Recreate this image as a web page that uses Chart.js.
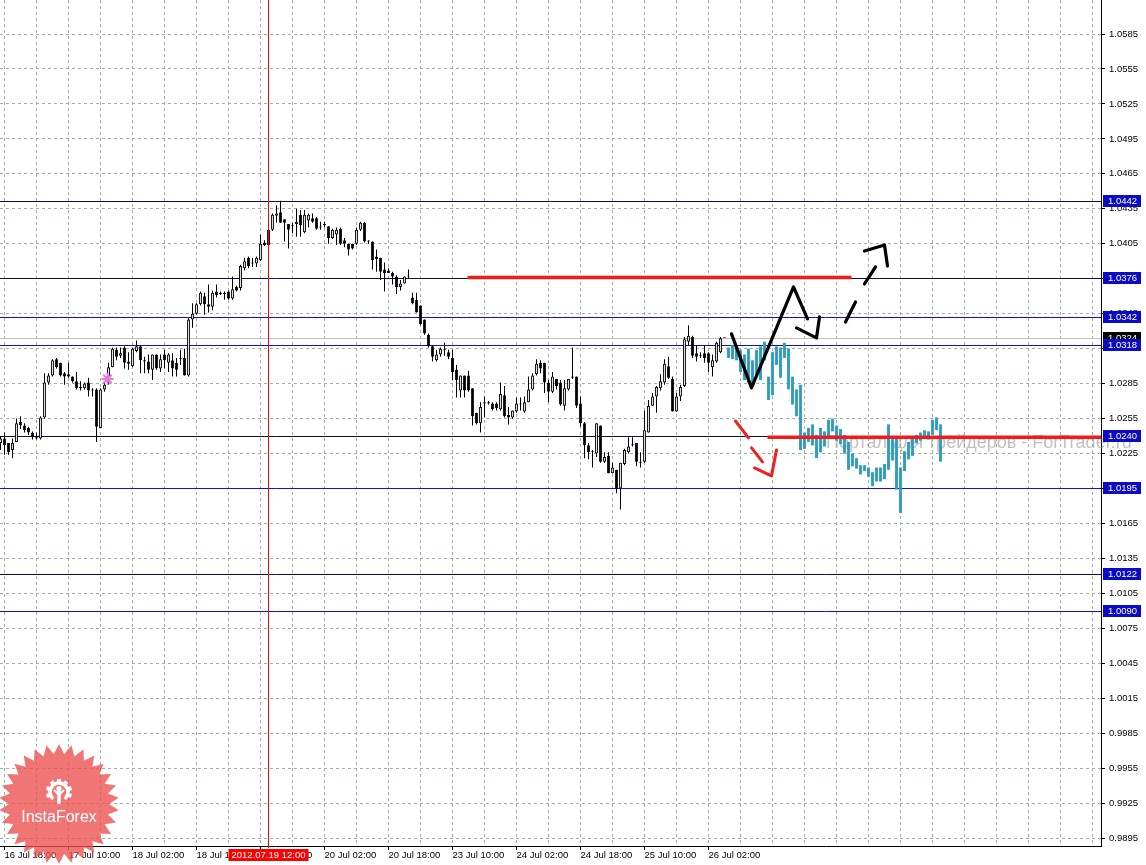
<!DOCTYPE html>
<html>
<head>
<meta charset="utf-8">
<script src="https://cdn.jsdelivr.net/npm/chart.js@4.4.1/dist/chart.umd.min.js"></script>
<style>
  html, body { margin: 0; padding: 0; background: #fff; overflow: hidden; }
  canvas { display: block; }
</style>
</head>
<body>
<canvas id="chart" width="1146" height="865"></canvas>
<script>
// EURCHF-like H1 chart, bar index 0 = 16 Jul 18:00
const firstBar = -1
// [open, high, low, close]
const candles = [
  [1.0234,1.0240,1.0228,1.0238],[1.0238,1.0243,1.0224,1.0232],[1.0234,1.0234,1.0224,1.0226],[1.0228,1.0238,1.0221,1.0234],
  [1.0235,1.0255,1.0235,1.0251],[1.0252,1.0257,1.0246,1.0249],[1.0249,1.0251,1.0243,1.0245],[1.0247,1.0248,1.0241,1.0243],
  [1.0243,1.0244,1.0237,1.0239],[1.0239,1.0243,1.0237,1.0238],[1.0238,1.0257,1.0237,1.0256],[1.0256,1.0294,1.0255,1.0286],
  [1.0286,1.0294,1.0284,1.0292],[1.0292,1.0306,1.0291,1.0305],[1.0306,1.0307,1.0298,1.0299],[1.0303,1.0303,1.0291,1.0292],
  [1.0294,1.0295,1.0284,1.0291],[1.0293,1.0303,1.0290,1.0291],[1.0291,1.0291,1.0286,1.0287],[1.0287,1.0295,1.0280,1.0281],
  [1.0282,1.0287,1.0279,1.0281],[1.0281,1.0286,1.0280,1.0285],[1.0286,1.0290,1.0274,1.0279],[1.0280,1.0281,1.0274,1.0279],
  [1.0280,1.0281,1.0235,1.0248],[1.0247,1.0281,1.0247,1.0280],[1.0280,1.0286,1.0278,1.0284],[1.0286,1.0303,1.0284,1.0299],
  [1.0299,1.0316,1.0299,1.0315],[1.0314,1.0316,1.0305,1.0308],[1.0309,1.0316,1.0307,1.0311],[1.0316,1.0317,1.0298,1.0303],
  [1.0304,1.0312,1.0297,1.0302],[1.0300,1.0316,1.0299,1.0315],[1.0313,1.0322,1.0312,1.0317],[1.0317,1.0317,1.0294,1.0305],
  [1.0305,1.0308,1.0294,1.0304],[1.0304,1.0310,1.0294,1.0297],[1.0297,1.0310,1.0288,1.0310],[1.0310,1.0310,1.0297,1.0298],
  [1.0298,1.0310,1.0295,1.0306],[1.0310,1.0314,1.0298,1.0305],[1.0303,1.0311,1.0295,1.0310],[1.0305,1.0311,1.0291,1.0298],
  [1.0303,1.0307,1.0291,1.0297],[1.0306,1.0314,1.0301,1.0306],[1.0307,1.0315,1.0292,1.0292],[1.0292,1.0341,1.0291,1.0340],
  [1.0340,1.0354,1.0333,1.0345],[1.0345,1.0354,1.0344,1.0353],[1.0353,1.0364,1.0352,1.0363],[1.0360,1.0363,1.0344,1.0353],
  [1.0353,1.0370,1.0346,1.0351],[1.0351,1.0365,1.0348,1.0363],[1.0364,1.0370,1.0359,1.0361],[1.0362,1.0364,1.0361,1.0363],
  [1.0362,1.0364,1.0357,1.0362],[1.0364,1.0365,1.0357,1.0358],[1.0358,1.0377,1.0357,1.0366],[1.0368,1.0369,1.0364,1.0365],
  [1.0367,1.0387,1.0365,1.0386],[1.0384,1.0393,1.0382,1.0390],[1.0393,1.0394,1.0384,1.0386],[1.0388,1.0393,1.0385,1.0389],
  [1.0388,1.0394,1.0385,1.0393],[1.0391,1.0413,1.0390,1.0405],[1.0406,1.0408,1.0403,1.0404],[1.0404,1.0418,1.0403,1.0417],
  [1.0417,1.0431,1.0416,1.0430],[1.0429,1.0438,1.0423,1.0431],[1.0432,1.0442,1.0423,1.0423],[1.0426,1.0426,1.0407,1.0423],
  [1.0422,1.0422,1.0401,1.0417],[1.0420,1.0423,1.0414,1.0420],[1.0422,1.0435,1.0411,1.0424],[1.0430,1.0434,1.0411,1.0421],
  [1.0415,1.0434,1.0414,1.0430],[1.0425,1.0431,1.0419,1.0430],[1.0427,1.0431,1.0423,1.0424],[1.0427,1.0428,1.0417,1.0418],
  [1.0419,1.0424,1.0417,1.0419],[1.0421,1.0424,1.0419,1.0422],[1.0420,1.0420,1.0405,1.0410],[1.0410,1.0418,1.0409,1.0417],
  [1.0413,1.0419,1.0404,1.0417],[1.0418,1.0419,1.0404,1.0405],[1.0408,1.0410,1.0402,1.0405],[1.0405,1.0405,1.0395,1.0400],
  [1.0405,1.0405,1.0400,1.0401],[1.0405,1.0419,1.0404,1.0417],[1.0417,1.0424,1.0416,1.0423],[1.0423,1.0424,1.0406,1.0407],
  [1.0407,1.0408,1.0405,1.0407],[1.0407,1.0407,1.0383,1.0391],[1.0394,1.0400,1.0381,1.0392],[1.0393,1.0393,1.0374,1.0381],
  [1.0383,1.0389,1.0364,1.0380],[1.0382,1.0384,1.0380,1.0380],[1.0380,1.0381,1.0370,1.0377],[1.0377,1.0378,1.0362,1.0368],
  [1.0368,1.0374,1.0365,1.0371],[1.0371,1.0377,1.0371,1.0377],[1.0377,1.0383,1.0375,1.0377],[1.0359,1.0363,1.0353,1.0354],
  [1.0357,1.0363,1.0346,1.0346],[1.0352,1.0352,1.0335,1.0336],[1.0340,1.0340,1.0327,1.0328],[1.0327,1.0328,1.0316,1.0317],
  [1.0317,1.0318,1.0304,1.0308],[1.0305,1.0314,1.0304,1.0310],[1.0310,1.0316,1.0308,1.0315],[1.0314,1.0320,1.0309,1.0314],
  [1.0312,1.0314,1.0306,1.0308],[1.0307,1.0314,1.0288,1.0295],[1.0297,1.0301,1.0273,1.0288],[1.0279,1.0292,1.0273,1.0292],
  [1.0292,1.0292,1.0273,1.0279],[1.0292,1.0296,1.0278,1.0279],[1.0281,1.0281,1.0249,1.0257],[1.0260,1.0260,1.0250,1.0251],
  [1.0251,1.0269,1.0243,1.0265],[1.0269,1.0274,1.0256,1.0268],[1.0268,1.0270,1.0267,1.0269],[1.0268,1.0269,1.0262,1.0263],
  [1.0268,1.0269,1.0262,1.0264],[1.0263,1.0286,1.0262,1.0276],[1.0275,1.0283,1.0256,1.0257],[1.0258,1.0265,1.0250,1.0256],
  [1.0256,1.0262,1.0255,1.0262],[1.0261,1.0273,1.0260,1.0268],[1.0268,1.0273,1.0262,1.0267],[1.0261,1.0274,1.0260,1.0269],
  [1.0269,1.0291,1.0269,1.0280],[1.0280,1.0294,1.0279,1.0292],[1.0293,1.0306,1.0292,1.0302],[1.0303,1.0305,1.0294,1.0298],
  [1.0303,1.0303,1.0277,1.0286],[1.0286,1.0288,1.0269,1.0278],[1.0278,1.0295,1.0277,1.0291],[1.0289,1.0289,1.0280,1.0283],
  [1.0286,1.0288,1.0266,1.0267],[1.0266,1.0288,1.0262,1.0281],[1.0280,1.0289,1.0279,1.0289],[1.0290,1.0316,1.0289,1.0291],
  [1.0291,1.0291,1.0264,1.0266],[1.0268,1.0274,1.0248,1.0251],[1.0251,1.0252,1.0221,1.0232],[1.0232,1.0234,1.0220,1.0226],
  [1.0226,1.0228,1.0213,1.0226],[1.0225,1.0251,1.0222,1.0251],[1.0249,1.0249,1.0217,1.0218],[1.0218,1.0226,1.0217,1.0222],
  [1.0223,1.0226,1.0208,1.0208],[1.0208,1.0217,1.0208,1.0213],[1.0211,1.0211,1.0191,1.0195],[1.0195,1.0217,1.0177,1.0217],
  [1.0216,1.0229,1.0215,1.0228],[1.0226,1.0239,1.0225,1.0231],[1.0232,1.0239,1.0231,1.0232],[1.0234,1.0234,1.0214,1.0218],
  [1.0218,1.0226,1.0213,1.0217],[1.0218,1.0262,1.0217,1.0245],[1.0243,1.0271,1.0243,1.0266],[1.0266,1.0277,1.0266,1.0274],
  [1.0274,1.0283,1.0260,1.0282],[1.0281,1.0293,1.0279,1.0287],[1.0286,1.0306,1.0284,1.0302],[1.0300,1.0308,1.0289,1.0290],
  [1.0289,1.0291,1.0261,1.0261],[1.0261,1.0277,1.0261,1.0274],[1.0274,1.0284,1.0270,1.0282],[1.0283,1.0325,1.0282,1.0323],
  [1.0321,1.0335,1.0318,1.0326],[1.0325,1.0326,1.0307,1.0309],[1.0311,1.0318,1.0304,1.0308],[1.0309,1.0312,1.0307,1.0309],
  [1.0311,1.0318,1.0303,1.0307],[1.0311,1.0312,1.0295,1.0303],[1.0299,1.0310,1.0291,1.0305],[1.0304,1.0321,1.0303,1.0320],
  [1.0312,1.0325,1.0311,1.0324],[1.0324,1.0324,1.0324,1.0324]
]

// overlaid projection bars [low, high], starting at bar 181
const projStart = 181
const projection = [
  [1.0307,1.0316],[1.0306,1.0318],[1.0305,1.0316],[1.0295,1.0314],[1.0288,1.0310],[1.0286,1.0315],[1.0284,1.0305],[1.0292,1.0314],
  [1.0288,1.0317],[1.0305,1.0321],[1.0271,1.0291],[1.0275,1.0312],[1.0301,1.0317],[1.0290,1.0316],[1.0307,1.0320],[1.0280,1.0315],
  [1.0267,1.0291],[1.0257,1.0280],[1.0228,1.0284],[1.0229,1.0243],[1.0235,1.0247],[1.0232,1.0250],[1.0221,1.0241],[1.0226,1.0247],
  [1.0231,1.0244],[1.0239,1.0254],[1.0244,1.0255],[1.0236,1.0249],[1.0233,1.0246],[1.0225,1.0241],[1.0211,1.0235],[1.0214,1.0225],
  [1.0212,1.0221],[1.0207,1.0215],[1.0210,1.0215],[1.0205,1.0213],[1.0197,1.0209],[1.0201,1.0213],[1.0201,1.0213],[1.0203,1.0216],
  [1.0211,1.0250],[1.0219,1.0238],[1.0194,1.0240],[1.0174,1.0213],[1.0210,1.0227],[1.0220,1.0235],[1.0223,1.0240],[1.0234,1.0241],
  [1.0236,1.0243],[1.0238,1.0245],[1.0237,1.0244],[1.0241,1.0254],[1.0245,1.0256],[1.0218,1.0250]
]

const timeLabels = ['16 Jul 18:00', '17 Jul 10:00', '18 Jul 02:00', '18 Jul 18:00', '19 Jul 10:00', '20 Jul 02:00',
  '20 Jul 18:00', '23 Jul 10:00', '24 Jul 02:00', '24 Jul 18:00', '25 Jul 10:00', '26 Jul 02:00']
const barsPerLabel = 16
const barsPerGrid = 8
const yTicks = [0.9895, 0.9925, 0.9955, 0.9985, 1.0015, 1.0045, 1.0075, 1.0105, 1.0135, 1.0165, 1.0195, 1.0225,
  1.0255, 1.0285, 1.0315, 1.0345, 1.0375, 1.0405, 1.0435, 1.0465, 1.0495, 1.0525, 1.0555, 1.0585]

const levels = [1.0442, 1.0376, 1.0342, 1.0318, 1.0240, 1.0195, 1.0122, 1.0090]
const darkLevels = [1.0442, 1.0376, 1.0240, 1.0122]
const bidPrice = 1.0324
const cursorBar = 66
const cursorLabel = '2012.07.19 12:00'

// thick red zones: [fromBar, toBar, price]
const redZones = [[115.75, 211.75, 1.0376], [190.75, 274.2, 1.0239]]
// hand drawn strokes: [bar, price]
const blackStrokes = [
  [[181.75, 1.03277], [186.75, 1.02813], [197.25, 1.03680], [200.75, 1.03405]],
  [[198, 1.03328], [203, 1.03242], [203.75, 1.03422]],
  [[210.25, 1.03379], [212.75, 1.03551]],
  [[215, 1.03705], [217.75, 1.03851]],
  [[215, 1.03988], [220, 1.04040], [220.75, 1.03859]]
]
const redStrokes = [
  [[182.75, 1.02529], [186, 1.02384]],
  [[186.75, 1.02298], [189.5, 1.02178]],
  [[187.5, 1.02126], [191.75, 1.02058], [193, 1.02281]]
]
const starMark = [25.75, 1.0289]
const watermark = 'Портал для трейдеров - ForTrader.ru'

const FONT = 'Liberation Sans'
const gridColor = 'rgb(160,176,166)'

const toPts = s => s.map(p => ({x: p[0], y: p[1]}))

const datasets = []
blackStrokes.forEach(s => datasets.push({type: 'line', data: toPts(s), borderColor: '#000', borderWidth: 3.2,
  borderCapStyle: 'round', borderJoinStyle: 'round', pointRadius: 0, order: 0}))
redStrokes.forEach(s => datasets.push({type: 'line', data: toPts(s), borderColor: '#ee2020', borderWidth: 3,
  borderCapStyle: 'round', borderJoinStyle: 'round', pointRadius: 0, order: 0}))
redZones.forEach(z => datasets.push({type: 'line', data: [{x: z[0], y: z[2]}, {x: z[1], y: z[2]}],
  borderColor: '#f01c1c', borderWidth: 3.5, pointRadius: 0, order: 1}))
datasets.push({type: 'line', data: [{x: starMark[0], y: starMark[1]}], showLine: false, pointStyle: 'star',
  pointRadius: 6, borderWidth: 2, borderColor: 'rgb(228,122,218)', order: 1})
datasets.push({
  type: 'bar', order: 2, grouped: false, maxBarThickness: 3, inflateAmount: 0, borderSkipped: false,
  minBarLength: 1, borderWidth: 1, borderColor: '#000',
  backgroundColor: ctx => { const c = candles[ctx.dataIndex]; return c && c[3] > c[0] ? '#fff' : '#000' },
  data: candles.map((c, k) => ({x: firstBar + k, y: [Math.min(c[0], c[3]), Math.max(c[0], c[3])]}))
})
datasets.push({
  type: 'bar', order: 3, grouped: false, maxBarThickness: 1, inflateAmount: 0, borderWidth: 0,
  backgroundColor: '#000',
  data: candles.map((c, k) => ({x: firstBar + k, y: [c[2], c[1]]}))
})
datasets.push({
  type: 'bar', order: 4, grouped: false, maxBarThickness: 3, inflateAmount: 0, borderWidth: 0,
  backgroundColor: '#2d9bc4',
  data: projection.map((p, k) => ({x: projStart + k, y: [p[0], p[1]]}))
})

const overlay = {
  id: 'overlay',
  beforeDatasetsDraw(chart) {
    const {ctx, chartArea: a, scales: {x, y}} = chart
    ctx.save()
    ctx.font = '18px "' + FONT + '"'
    ctx.fillStyle = 'rgba(150,150,150,0.6)'
    ctx.textBaseline = 'middle'
    ctx.fillText(watermark, 826, y.getPixelForValue(1.0234))
    // bid line
    let py = Math.round(y.getPixelForValue(bidPrice)) + 0.5
    ctx.strokeStyle = '#c0c0c0'
    ctx.lineWidth = 1
    ctx.beginPath(); ctx.moveTo(a.left, py); ctx.lineTo(a.right, py); ctx.stroke()
    levels.forEach(lv => {
      const yy = Math.round(y.getPixelForValue(lv)) + 0.5
      ctx.strokeStyle = darkLevels.includes(lv) ? '#101040' : '#1010d8'
      ctx.beginPath(); ctx.moveTo(a.left, yy); ctx.lineTo(a.right, yy); ctx.stroke()
    })
    ctx.restore()
  },
  afterDatasetsDraw(chart) {
    const {ctx, chartArea: a, scales: {x, y}} = chart
    ctx.save()
    // crosshair
    const cx = Math.round(x.getPixelForValue(cursorBar)) - 0.5
    ctx.strokeStyle = '#ff0000'
    ctx.lineWidth = 1
    ctx.beginPath(); ctx.moveTo(cx, a.top); ctx.lineTo(cx, a.bottom + 2); ctx.stroke()
    ctx.font = '9.5px "' + FONT + '"'
    ctx.textBaseline = 'middle'
    ctx.fillStyle = '#ff0000'
    ctx.fillRect(cx - 40, 849, 80, 12)
    ctx.fillStyle = '#fff'
    ctx.textAlign = 'center'
    ctx.fillText(cursorLabel, cx, 855.5)
    ctx.textAlign = 'left'
    // price boxes
    const box = (p, bg) => {
      const yy = Math.round(y.getPixelForValue(p))
      ctx.fillStyle = bg
      ctx.fillRect(a.right + 2, yy - 6, 38, 12)
      ctx.fillStyle = '#fff'
      ctx.fillText(p.toFixed(4), a.right + 7, yy + 0.5)
    }
    box(bidPrice, '#000')
    levels.forEach(lv => box(lv, '#0a0ac8'))
    // logo
    const lx = 59, ly = 804, R = 60, r = 50, n = 30
    ctx.fillStyle = 'rgba(236,78,78,0.78)'
    ctx.beginPath()
    for (let k = 0; k < n * 2; k++) {
      const ang = -Math.PI / 2 + k * Math.PI / n
      const rad = k % 2 ? r : R
      const px = lx + rad * Math.cos(ang), pyy = ly + rad * Math.sin(ang)
      k ? ctx.lineTo(px, pyy) : ctx.moveTo(px, pyy)
    }
    ctx.closePath(); ctx.fill()
    ctx.strokeStyle = '#fff'; ctx.fillStyle = '#fff'
    ctx.lineWidth = 3.5
    ctx.beginPath(); ctx.arc(lx, 792, 9, Math.PI * 0.72, Math.PI * 0.28); ctx.stroke()
    for (let k = 0; k < 7; k++) {
      const ang = Math.PI * 0.9 + k * Math.PI * 1.2 / 6
      ctx.save(); ctx.translate(lx + 11 * Math.cos(ang), 792 + 11 * Math.sin(ang)); ctx.rotate(ang)
      ctx.fillRect(-1.5, -2, 3.5, 4); ctx.restore()
    }
    ctx.fillRect(lx - 1.8, 791, 3.6, 13)
    ctx.beginPath(); ctx.arc(lx, 788.5, 2.6, 0, Math.PI * 2); ctx.fill()
    ctx.lineWidth = 2
    ctx.beginPath(); ctx.moveTo(lx - 5, 790); ctx.lineTo(lx, 795); ctx.lineTo(lx + 5, 790); ctx.stroke()
    ctx.font = '16px "' + FONT + '"'
    ctx.textAlign = 'center'
    ctx.fillText('InstaForex', lx, 818)
    ctx.restore()
  }
}

new Chart(document.getElementById('chart'), {
  type: 'bar',
  data: {datasets},
  plugins: [overlay],
  options: {
    responsive: false,
    animation: false,
    devicePixelRatio: 1,
    events: [],
    layout: {padding: 0, autoPadding: false},
    plugins: {legend: {display: false}, tooltip: {enabled: false}, title: {display: false}},
    scales: {
      x: {
        type: 'linear', position: 'bottom', min: -1.125, max: 274.125, offset: false,
        afterBuildTicks: s => {
          const t = []
          for (let v = 0; v <= 272; v += barsPerGrid) t.push({value: v})
          s.ticks = t
        },
        afterFit: s => { s.height = 19; s.paddingLeft = 0; s.paddingRight = 0 },
        grid: {
          color: gridColor, offset: false, tickLength: 4,
          tickColor: c => (c.tick && c.tick.value % barsPerLabel === 0 && c.tick.value / barsPerLabel < timeLabels.length) ? '#000' : 'rgba(0,0,0,0)'
        },
        border: {color: '#000', dash: [3, 3]},
        ticks: {
          autoSkip: false, maxRotation: 0, minRotation: 0, align: 'start', padding: 0, color: '#000',
          font: {family: FONT, size: 9.5},
          callback: v => (v % barsPerLabel === 0 && v / barsPerLabel < timeLabels.length) ? timeLabels[v / barsPerLabel] : ''
        }
      },
      y: {
        type: 'linear', position: 'right', min: 0.98882, max: 1.06142,
        afterBuildTicks: s => { s.ticks = yTicks.map(v => ({value: v})) },
        afterFit: s => { s.width = 45; s.paddingTop = 0; s.paddingBottom = 0 },
        grid: {color: gridColor, tickLength: 4, tickColor: '#000'},
        border: {color: '#000', dash: [3, 3]},
        ticks: {autoSkip: false, padding: 4, color: '#000', font: {family: FONT, size: 9.5}, callback: v => v.toFixed(4)}
      }
    }
  }
})
</script>
</body>
</html>
